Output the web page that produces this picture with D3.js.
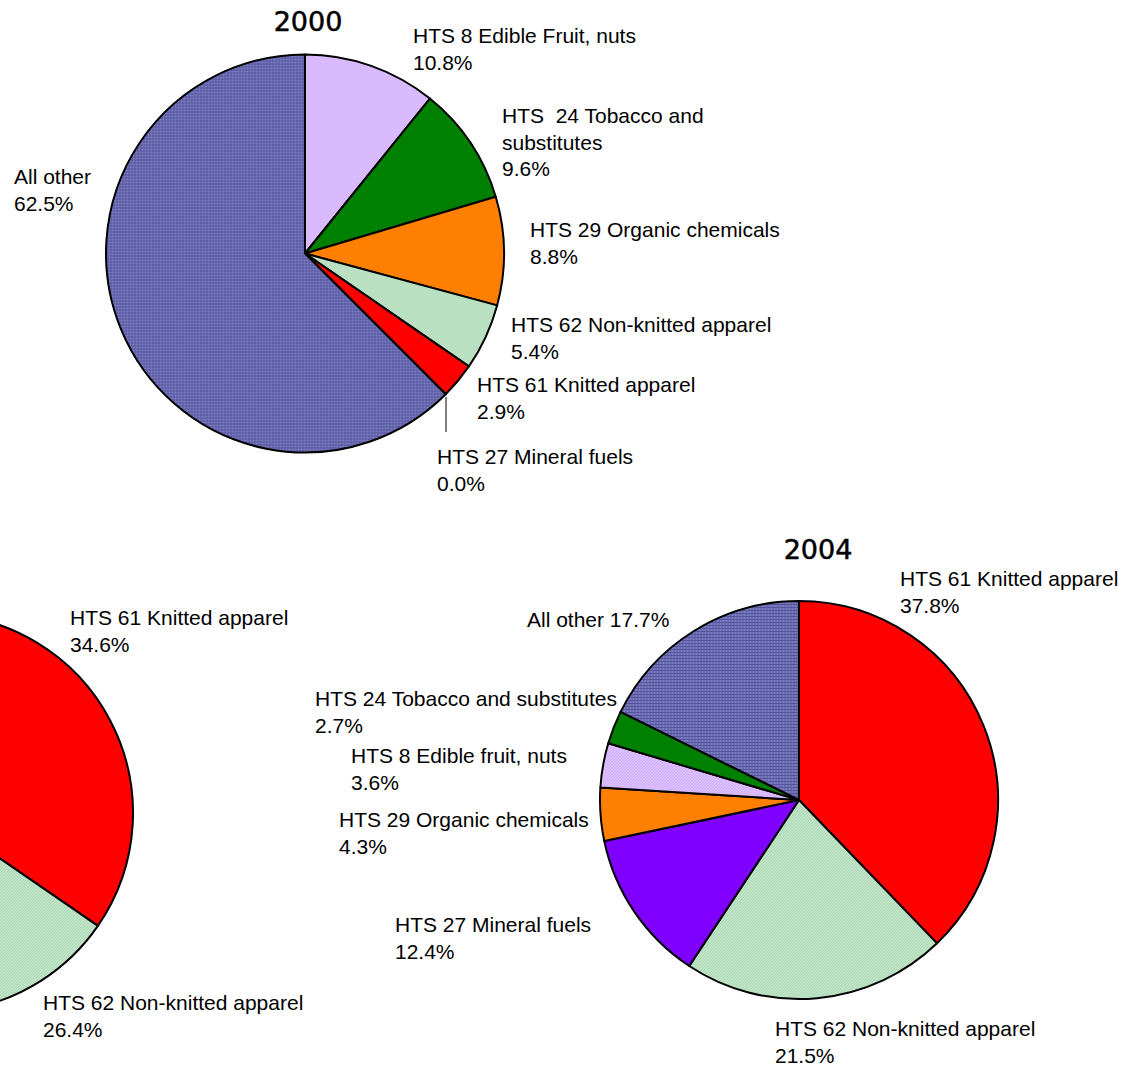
<!DOCTYPE html>
<html>
<head>
<meta charset="utf-8">
<script src="https://cdn.jsdelivr.net/npm/d3@7"></script>
<style>
  html, body { margin: 0; padding: 0; background: #ffffff; }
  svg { display: block; }
  text { font-family: "Liberation Sans", Arial, sans-serif; fill: #000; }
  .title { font-family: "DejaVu Sans", Verdana, sans-serif; stroke: #000; stroke-width: 0.5px; }
</style>
</head>
<body>
<svg id="chart" width="1142" height="1073"></svg>
<script>
// ---- data ----
const titles = ["2000", "2004"];

const cats2000 = ["HTS 8 Edible Fruit, nuts", "HTS  24 Tobacco and substitutes", "HTS 29 Organic chemicals",
                  "HTS 62 Non-knitted apparel", "HTS 61 Knitted apparel", "HTS 27 Mineral fuels", "All other"];
const vals2000 = [10.8, 9.6, 8.8, 5.4, 2.9, 0.0, 62.5];

// middle pie (only partly visible at the left edge)
const catsMid = ["HTS 61 Knitted apparel", "HTS 62 Non-knitted apparel"];
const valsMid = [34.6, 26.4];

const cats2004 = ["HTS 61 Knitted apparel", "HTS 62 Non-knitted apparel", "HTS 27 Mineral fuels",
                  "HTS 29 Organic chemicals", "HTS 8 Edible fruit, nuts", "HTS 24 Tobacco and substitutes", "All other"];
const vals2004 = [37.8, 21.5, 12.4, 4.3, 3.6, 2.7, 17.7];

// ---- styles per category code ----
function codeOf(cat) {
  const m = cat.match(/HTS\s+(\d+)/);
  return m ? m[1] : "other";
}
const fillByCode = {
  "8": "url(#patLav)",
  "24": "#008000",
  "29": "#FF8000",
  "62": "url(#patGreen)",
  "61": "#FF0000",
  "27": "#8000FF",
  "other": "url(#patOther)"
};

const svg = d3.select("#chart");
const defs = svg.append("defs");

function pattern(id, base, line) {
  const p = defs.append("pattern").attr("id", id).attr("patternUnits", "userSpaceOnUse")
    .attr("width", 3).attr("height", 3);
  p.append("rect").attr("width", 3).attr("height", 3).attr("fill", base);
  p.append("path").attr("d", "M0,3 L3,0").attr("stroke", line).attr("stroke-width", 0.8);
}
pattern("patLav", "#DCC0FF", "#CBA8F5");
pattern("patGreen", "#C0E4C8", "#A8D4B0");
const po = defs.append("pattern").attr("id", "patOther").attr("patternUnits", "userSpaceOnUse")
  .attr("width", 3).attr("height", 3);
po.append("rect").attr("width", 3).attr("height", 3).attr("fill", "#6C6CB2");
po.append("rect").attr("x", 0).attr("y", 2).attr("width", 3).attr("height", 1).attr("fill", "#55559E");
po.append("rect").attr("x", 2).attr("y", 0).attr("width", 1).attr("height", 2).attr("fill", "#7E7EC2");

// ---- layout ----
const R = 199;
const pies = [
  { cats: cats2000, vals: vals2000, cx: 305, cy: 253.5, title: titles[0], tx: 308, ty: 31,
    labels: [
      { x: 413, y: 43, lines: ["HTS 8 Edible Fruit, nuts", "10.8%"] },
      { x: 502, y: 123, lines: ["HTS  24 Tobacco and", "substitutes", "9.6%"] },
      { x: 530, y: 237, lines: ["HTS 29 Organic chemicals", "8.8%"] },
      { x: 511, y: 332, lines: ["HTS 62 Non-knitted apparel", "5.4%"] },
      { x: 477, y: 392, lines: ["HTS 61 Knitted apparel", "2.9%"] },
      { x: 437, y: 464, lines: ["HTS 27 Mineral fuels", "0.0%"], leader: [[446, 397], [446, 432]] },
      { x: 14, y: 184, lines: ["All other", "62.5%"] }
    ] },
  { cats: catsMid, vals: valsMid, cx: -66, cy: 813, title: null,
    labels: [
      { x: 70, y: 625, lines: ["HTS 61 Knitted apparel", "34.6%"] },
      { x: 43, y: 1010, lines: ["HTS 62 Non-knitted apparel", "26.4%"] }
    ] },
  { cats: cats2004, vals: vals2004, cx: 799, cy: 800, title: titles[1], tx: 818, ty: 559,
    labels: [
      { x: 900, y: 586, lines: ["HTS 61 Knitted apparel", "37.8%"] },
      { x: 775, y: 1036, lines: ["HTS 62 Non-knitted apparel", "21.5%"] },
      { x: 395, y: 932, lines: ["HTS 27 Mineral fuels", "12.4%"] },
      { x: 339, y: 827, lines: ["HTS 29 Organic chemicals", "4.3%"] },
      { x: 351, y: 763, lines: ["HTS 8 Edible fruit, nuts", "3.6%"] },
      { x: 315, y: 706, lines: ["HTS 24 Tobacco and substitutes", "2.7%"] },
      { x: 527, y: 627, lines: ["All other 17.7%"] }
    ] }
];

const arc = d3.arc().innerRadius(0).outerRadius(R);

pies.forEach(p => {
  const total = d3.sum(p.vals);
  const pie = d3.pie().sort(null).value(d => d.v)
    .startAngle(0).endAngle(2 * Math.PI * total / 100);
  const data = p.cats.map((c, i) => ({ c, v: p.vals[i] }));
  const g = svg.append("g").attr("transform", `translate(${p.cx},${p.cy})`);
  g.selectAll("path").data(pie(data)).join("path")
    .attr("d", arc)
    .attr("fill", d => fillByCode[codeOf(d.data.c)])
    .attr("stroke", "#000")
    .attr("stroke-width", 2)
    .attr("stroke-linejoin", "round");

  if (p.title) {
    svg.append("text").attr("class", "title")
      .attr("x", p.tx).attr("y", p.ty)
      .attr("text-anchor", "middle")
      .attr("font-size", 27)
      .text(p.title);
  }

  p.labels.forEach(l => {
    if (l.leader) {
      svg.append("line")
        .attr("x1", l.leader[0][0]).attr("y1", l.leader[0][1])
        .attr("x2", l.leader[1][0]).attr("y2", l.leader[1][1])
        .attr("stroke", "#000").attr("stroke-width", 1);
    }
    const t = svg.append("text").attr("font-size", 21).attr("xml:space", "preserve");
    l.lines.forEach((ln, i) => {
      t.append("tspan").attr("x", l.x).attr("y", l.y + i * 26.5).text(ln);
    });
  });
});
</script>
</body>
</html>
